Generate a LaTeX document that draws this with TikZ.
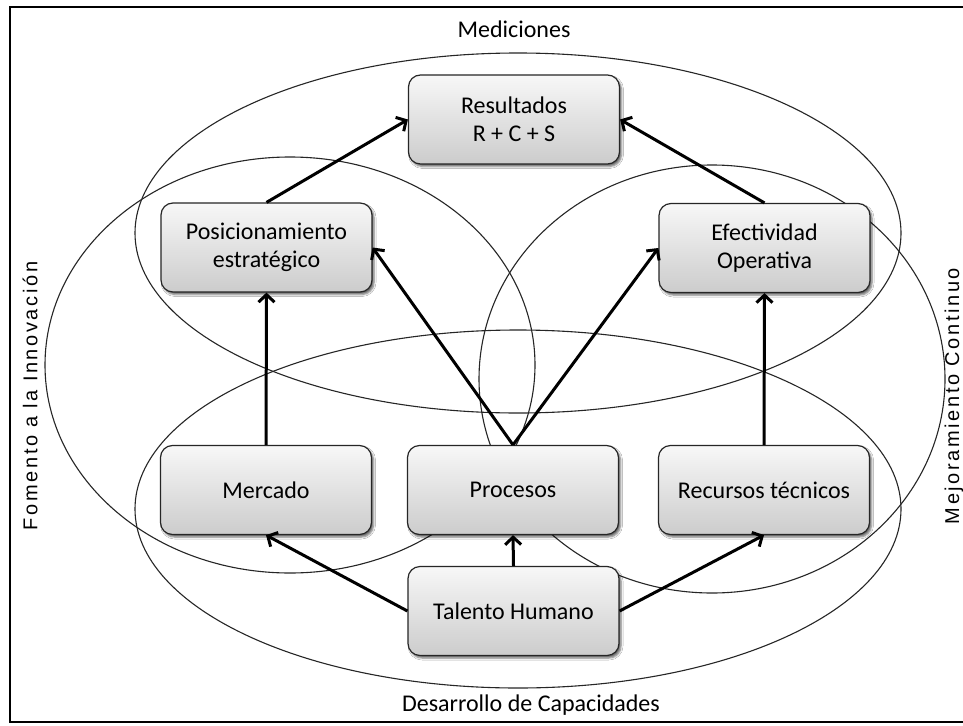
\documentclass[tikz,border=0pt]{standalone}
\usepackage{fontspec}
\setmainfont{Carlito}
\newfontfamily\sidefont[LetterSpace=13]{Liberation Sans}
\usetikzlibrary{shadows.blur,arrows.meta}

\tikzset{
  box/.style={rectangle, rounded corners=12pt, draw=black!85, line width=1.2pt,
    top color=gray!6, bottom color=gray!40,
    minimum width=211pt, minimum height=89pt, align=center,
    font=\fontsize{24}{28}\selectfont,
    blur shadow={shadow xshift=2pt, shadow yshift=-2.5pt, shadow blur radius=2pt, shadow opacity=60}},
  ring/.style={draw=black!85, line width=1.1pt},
  link/.style={line width=3pt, -{Straight Barb[length=7.5pt,width=16pt]}},
  sidetext/.style={font=\sidefont\fontsize{20}{22}\selectfont, rotate=90, inner sep=0pt},
  areatext/.style={font=\fontsize{24}{28}\selectfont}
}

\begin{document}
\begin{tikzpicture}[x=1pt, y=-1pt]
  \useasboundingbox (0,0) rectangle (963,725);
  \fill[white] (0,0) rectangle (963,725);
  \draw[line width=1.6pt] (10,7) rectangle (990,722);

  % the four overlapping areas
  \draw[ring] (518,233) ellipse [x radius=383, y radius=180];
  \draw[ring] (518,509) ellipse [x radius=383, y radius=179];
  \draw[ring] (290,365) ellipse [x radius=245, y radius=208];
  \draw[ring] (712,379) ellipse [x radius=233, y radius=214];

  % area names
  \node[areatext] (med) at (514,29) {Mediciones};
  \node[areatext] (des) at (531,705) {Desarrollo de Capacidades};
  \node[sidetext] (fom) at (30,396) {Fomento a la Innovación};
  \node[sidetext] (mej) at (954,396) {Mejoramiento Continuo};

  % boxes
  \node[box] (res) at (514,119.5) {Resultados\\R + C + S};
  \node[box] (pos) at (266.5,247.5) {Posicionamiento\\estratégico};
  \node[box] (efe) at (764.5,248) {Efectividad\\Operativa};
  \node[box] (mer) at (266,490) {Mercado};
  \node[box] (pro) at (513,490) {Procesos};
  \node[box] (rec) at (764,490) {Recursos técnicos};
  \node[box] (tal) at (513.5,611) {Talento Humano};

  % influences
  \draw[link] (pos.north) -- (res.west);
  \draw[link] (efe.north) -- (res.east);
  \draw[link] (mer.north) -- (pos.south);
  \draw[link] (rec.north) -- (efe.south);
  \draw[link] (pro.north) -- (pos.east);
  \draw[link] (pro.north) -- (efe.west);
  \draw[link] (tal.west) -- (mer.south);
  \draw[link] (tal.north) -- (pro.south);
  \draw[link] (tal.east) -- (rec.south);
\end{tikzpicture}
\end{document}
